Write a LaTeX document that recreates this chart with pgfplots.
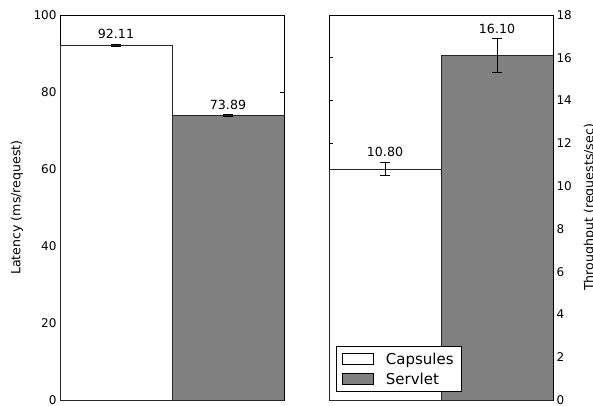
\documentclass[border=0pt]{standalone}
\usepackage{fontspec}
\setmainfont{DejaVu Sans}
\usepackage{pgfplots}
\pgfplotsset{compat=1.18}
\definecolor{bargray}{HTML}{808080}
\newcommand{\tickfont}{\fontsize{12}{14}\selectfont}
\newcommand{\labfont}{\fontsize{12.6}{15}\selectfont}
\newcommand{\legfont}{\fontsize{15}{18}\selectfont}
\begin{document}
\begin{tikzpicture}
\path[use as bounding box] (0pt,0pt) rectangle (593pt,405pt);
\pgfplotsset{
  myax/.style={
    scale only axis, width=224pt, height=385pt,
    xmin=0, xmax=2, xtick=\empty,
    tick align=inside, major tick length=4pt,
    axis line style={line width=0.8pt},
    every tick/.style={line width=0.8pt, black},
    /pgf/number format/assume math mode=true,
    yticklabel style={font=\tickfont},
    legend cell align=left,
  },
  mybar/.style={ybar, bar width=1, bar shift=0pt, draw=black!85, line width=0.6pt,
    error bars/y dir=both, error bars/y explicit,
    error bars/error bar style={black, line width=0.8pt},
    error bars/error mark options={rotate=90, mark size=5pt, black, line width=0.8pt}},
  vallab/.style={draw=none, mark=none, nodes near coords, point meta=explicit symbolic,
    every node near coord/.append style={anchor=south, yshift=2pt, font=\labfont}},
}
\begin{axis}[myax, at={(60pt,5pt)}, anchor=south west,
  ymin=0, ymax=100, ytick={0,20,...,100},
  ylabel={\labfont Latency (ms/request)},
  ylabel style={at={(axis description cs:-0.192,0.5)}, anchor=center},
]
\addplot[mybar, fill=white] coordinates {(0.5,92.11) +- (0,0.3)};
\addplot[mybar, fill=bargray] coordinates {(1.5,73.89) +- (0,0.2)};
\addplot[vallab] coordinates {(0.5,92.41) [92.11] (1.5,74.09) [73.89]};
\end{axis}
\begin{axis}[myax, at={(329pt,5pt)}, anchor=south west,
  ymin=0, ymax=18, ytick={0,2,...,18},
  yticklabel pos=right,
  ylabel={\labfont Throughput (requests/sec)},
  ylabel style={at={(axis description cs:1.165,0.5)}, anchor=center, rotate=0},
  legend style={at={(0.031,0.021)}, anchor=south west, draw=black, line width=0.8pt,
    font=\legfont, row sep=3pt, inner xsep=6pt, inner ysep=4pt,
    /tikz/every odd column/.append style={column sep=10pt}},
  legend image code/.code={\draw[#1, line width=0.6pt, draw=black] (0pt,-5.5pt) rectangle (31pt,5.5pt);},
]
\addplot[mybar, fill=white] coordinates {(0.5,10.80) +- (0,0.31)};
\addlegendentry{Capsules}
\addplot[mybar, fill=bargray] coordinates {(1.5,16.10) +- (0,0.79)};
\addlegendentry{Servlet}
\addplot[vallab, forget plot] coordinates {(0.5,11.11) [10.80] (1.5,16.89) [16.10]};
\end{axis}
\end{tikzpicture}
\end{document}
